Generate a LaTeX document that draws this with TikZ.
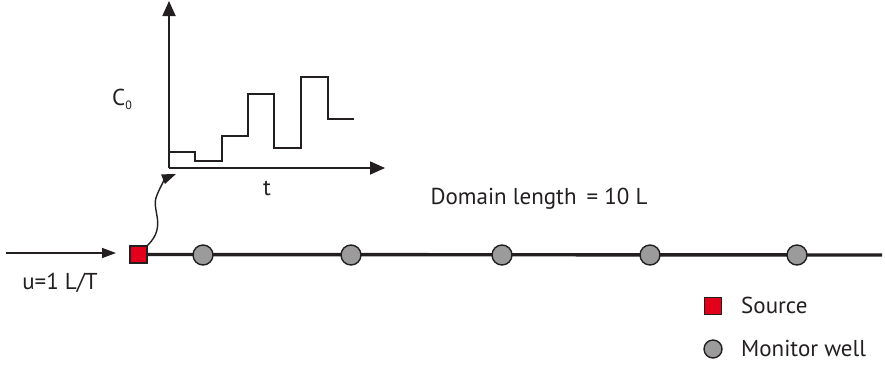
\documentclass[tikz,border=0pt]{standalone}
\usepackage{fontspec}
\setmainfont{PT Sans}
\usetikzlibrary{arrows.meta}
\definecolor{srcred}{HTML}{E2001A}
\definecolor{wellgray}{HTML}{9B9B9B}
\definecolor{ink}{HTML}{231F20}
\tikzset{
  x=1pt,y=-1pt,
  srcbox/.style={draw=ink,line width=1.2pt,fill=srcred,minimum size=17pt,inner sep=0pt},
  well/.style={circle,draw=ink,line width=1.4pt,fill=wellgray,minimum size=20pt,inner sep=0pt},
  lbl/.style={text=ink,inner sep=0pt,font=\fontsize{23}{26}\selectfont},
  axis/.style={draw=ink,line width=1.8pt,-{Triangle[length=15pt,width=13pt]}},
  arr/.style={draw=ink,line width=1.4pt,-{Triangle[length=14pt,width=10pt]}},
}
\begin{document}
\begin{tikzpicture}
\useasboundingbox (0,0) rectangle (885,365);
% main line
\coordinate (lineend) at (882,255);
\node[srcbox] (src) at (138.5,254.5) {};
\draw[ink,line width=3.4pt] (src.east) -- (lineend);
\foreach \i/\x in {1/203,2/351,3/502,4/650,5/797}
  \node[well] (w\i) at (\x,255) {};
% inflow arrow
\coordinate (inA) at (6,253);
\coordinate (inB) at (116,253);
\draw[arr] (inA) -- (inB);
\node[lbl] (u) at (60,283) {u=1 L/T};
% graph axes
\coordinate (O) at (169,168);
\coordinate (ytop) at (169,1);
\coordinate (xend) at (385,168);
\draw[axis] (O) -- (ytop);
\draw[axis] (O) -- (xend);
\draw[ink,line width=1.8pt] (169,152) -- (195,152) -- (195,161) -- (222,161) -- (222,136) -- (248,136) -- (248,94) -- (274,94) -- (274,148) -- (301,148) -- (301,77) -- (328,77) -- (328,119) -- (354,119);
\node[lbl] (c0) at (122,99) {C\raisebox{-0.35ex}{\fontsize{12}{14}\selectfont 0}};
\node[lbl] (t) at (267,188) {t};
% wavy arrow
\coordinate (wtip) at (176,174);
\draw[arr] (src.north east) .. controls (168,225) and (150,210) .. (157,195) .. controls (161,185) and (166,178) .. (wtip);
% domain length
\node[lbl] (dom) at (539,199) {Domain length \,= 10 L};
% legend
\node[srcbox] (lsrc) at (713,306) {};
\node[lbl,anchor=west] (lsrct) at (741,305) {Source};
\node[well,minimum size=18pt] (lwell) at (713,349) {};
\node[lbl,anchor=west] (lwellt) at (741,348) {Monitor well};
\end{tikzpicture}
\end{document}
